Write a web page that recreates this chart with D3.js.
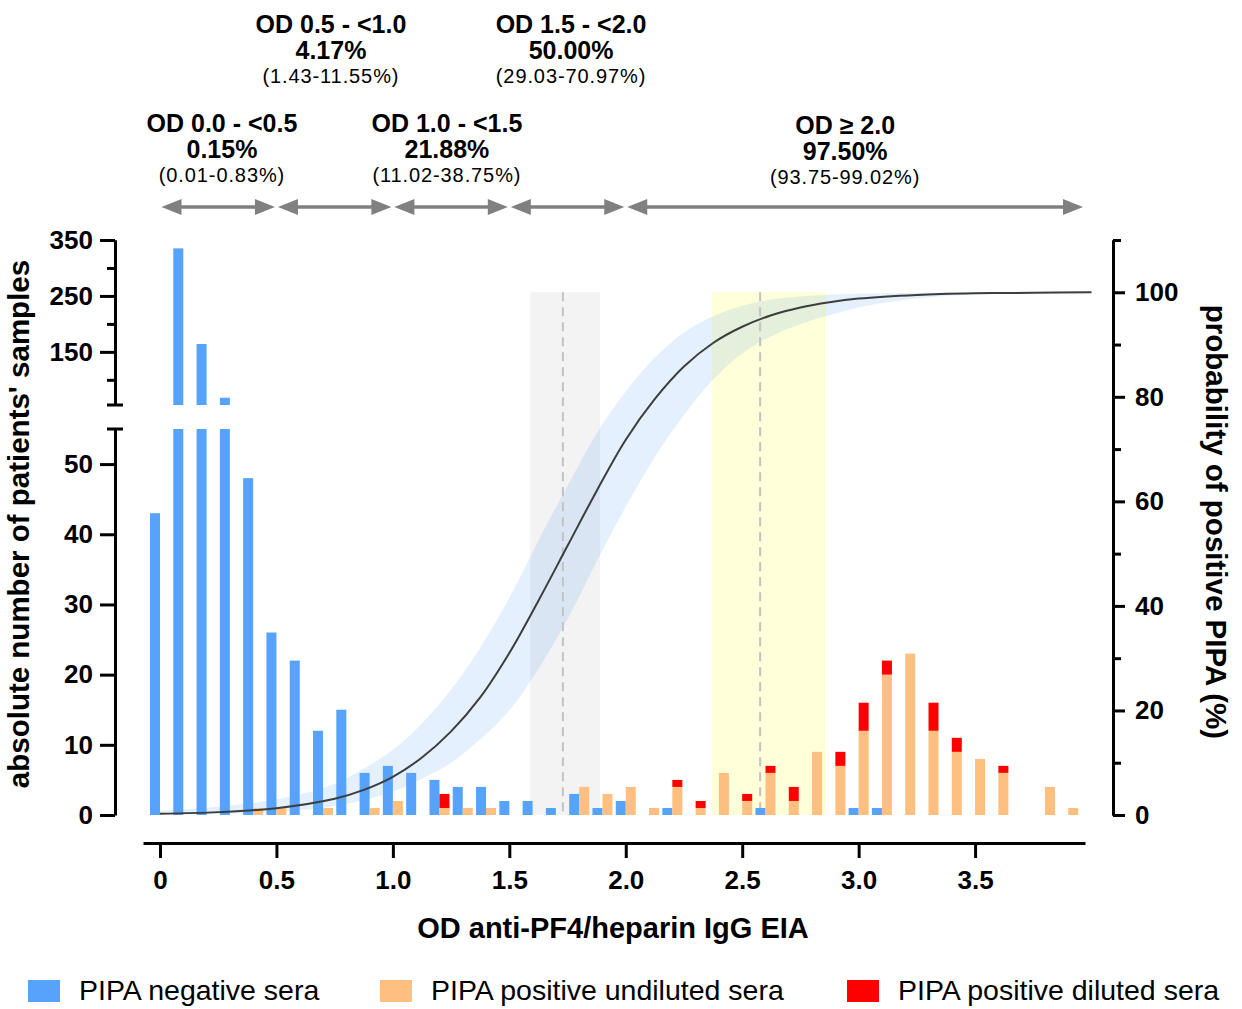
<!DOCTYPE html>
<html>
<head>
<meta charset="utf-8">
<script src="https://cdn.jsdelivr.net/npm/d3@7"></script>
<style>
	body { margin: 0; background: #fff; }
	svg text { font-family: "Liberation Sans", Arial, sans-serif; }
</style>
</head>
<body>
<div id="chart"></div>
<script>
// OD bins (bar centres) and counts per bin
const odBins = [0.0, 0.1, 0.2, 0.3, 0.4, 0.5, 0.6, 0.7, 0.8, 0.9,
	1.0, 1.1, 1.2, 1.3, 1.4, 1.5, 1.6, 1.7, 1.8, 1.9,
	2.0, 2.1, 2.2, 2.3, 2.4, 2.5, 2.6, 2.7, 2.8, 2.9,
	3.0, 3.1, 3.2, 3.3, 3.4, 3.5, 3.6, 3.7, 3.8, 3.9]
const negative = [43, 335, 164, 68, 48, 26, 22, 12, 15, 6,
	7, 6, 5, 4, 4, 2, 2, 1, 3, 1,
	2, 0, 1, 0, 0, 0, 1, 0, 0, 0,
	1, 1, 0, 0, 0, 0, 0, 0, 0, 0]
const posUndiluted = [0, 0, 0, 0, 1, 1, 0, 1, 0, 1,
	2, 0, 1, 1, 1, 0, 0, 0, 4, 3,
	4, 1, 4, 1, 6, 2, 6, 2, 9, 7,
	12, 20, 23, 12, 9, 8, 6, 0, 4, 1]
const posDiluted = [0, 0, 0, 0, 0, 0, 0, 0, 0, 0,
	0, 0, 2, 0, 0, 0, 0, 0, 0, 0,
	0, 0, 1, 1, 0, 1, 1, 2, 0, 2,
	4, 2, 0, 4, 2, 0, 1, 0, 0, 0]

// fitted probability curve and its 95% band (%)
const curveOD = [0, 0.25, 0.5, 0.75, 0.875, 1.0, 1.125, 1.25, 1.375, 1.5, 1.625, 1.75, 1.875, 2.0, 2.125, 2.25, 2.375, 2.5, 2.625, 2.75, 2.875, 3.0, 3.25, 3.5, 3.75, 4.0]
const curvePct = [0.25, 0.55, 1.3, 3.1, 4.8, 7.3, 11, 16, 22.5, 31, 41, 51.5, 62, 71.8, 79.6, 85.8, 90.3, 93.4, 95.6, 97.1, 98.1, 98.8, 99.5, 99.8, 99.9, 100]
const bandOD = [0, 0.25, 0.5, 0.75, 1.0, 1.125, 1.25, 1.375, 1.5, 1.625, 1.75, 1.875, 2.0, 2.125, 2.25, 2.375, 2.5, 2.625, 2.75, 3.0, 3.25, 3.5, 3.75, 4.0]
const bandUpper = [0.8, 1.6, 3.0, 6.0, 12.5, 17.5, 24, 32, 41.5, 52.5, 63, 73, 81, 87.5, 92.3, 95.4, 97.4, 98.6, 99.2, 99.7, 99.9, 100, 100, 100]
const bandLower = [0.05, 0.2, 0.6, 1.7, 4.5, 7, 10, 14.5, 20, 28, 37.5, 48.5, 59, 68.5, 76.5, 83.3, 88.3, 91.6, 93.9, 97.1, 98.8, 99.6, 99.9, 100]

// OD at 50% / 95% probability with confidence intervals
const od50 = 1.73, od50CI = [1.59, 1.89]
const od95 = 2.577, od95CI = [2.37, 2.86]

// annotation ranges on top
const annotLabels = ["OD 0.0 - <0.5", "OD 0.5 - <1.0", "OD 1.0 - <1.5", "OD 1.5 - <2.0", "OD \u2265 2.0"]
const annotPct = ["0.15%", "4.17%", "21.88%", "50.00%", "97.50%"]
const annotCI = ["(0.01-0.83%)", "(1.43-11.55%)", "(11.02-38.75%)", "(29.03-70.97%)", "(93.75-99.02%)"]
const annotFrom = [0, 0.5, 1.0, 1.5, 2.0]
const annotTo = [0.5, 1.0, 1.5, 2.0, 3.97]
const annotTextOD = [0.266, 0.734, 1.232, 1.765, 2.942]
const annotBaseline = [132, 33, 132, 33, 134]

const xTicks = [0, 0.5, 1.0, 1.5, 2.0, 2.5, 3.0, 3.5]
const legendLabels = ["PIPA negative sera", "PIPA positive undiluted sera", "PIPA positive diluted sera"]

const blue = "#57a2fb", orange = "#ffbf80", red = "#ff0000"

const svg = d3.select("#chart").append("svg").attr("width", 1242).attr("height", 1009)

const x = d3.scaleLinear().domain([-0.073, 3.972]).range([143, 1085])
const yLow = d3.scaleLinear().domain([0, 55]).range([815, 429])
const yHigh = d3.scaleLinear().domain([55, 350]).range([405, 240])
const yR = d3.scaleLinear().domain([0, 110]).range([815, 240])
const barW = 10

// shaded intervals
svg
	.selectAll(".shade")
	.data([{ ci: od50CI, fill: "#f3f3f3" }, { ci: od95CI, fill: "#ffffd9" }])
	.enter()
	.append("rect")
	.attr("x", d => x(d.ci[0]))
	.attr("width", d => x(d.ci[1]) - x(d.ci[0]))
	.attr("y", yR(100))
	.attr("height", yR(0) - yR(100))
	.attr("fill", d => d.fill)

// confidence band
const band = d3.area()
	.x(d => x(d))
	.y0((d, i) => yR(bandLower[i]))
	.y1((d, i) => yR(bandUpper[i]))
	.curve(d3.curveCatmullRom.alpha(0.5))

svg.append("path").datum(bandOD).attr("d", band).attr("fill", "rgb(66,150,240)").attr("fill-opacity", 0.14)

svg
	.selectAll(".ref")
	.data([od50, od95])
	.enter()
	.append("line")
	.attr("x1", d => x(d))
	.attr("x2", d => x(d))
	.attr("y1", yR(100))
	.attr("y2", yR(0))
	.attr("stroke", "#c2c2c2")
	.attr("stroke-width", 2)
	.attr("stroke-dasharray", "9,6")

// bars
const rows = odBins.map((od, i) => ({ od, neg: negative[i], und: posUndiluted[i], dil: posDiluted[i] }))

const negSegs = []
rows.forEach(d => {
	if (d.neg === 0) return
	negSegs.push({ od: d.od, y0: yLow(0), y1: yLow(Math.min(d.neg, 55)) })
	if (d.neg > 55) negSegs.push({ od: d.od, y0: yHigh(55), y1: yHigh(d.neg) })
})

svg
	.selectAll(".neg")
	.data(negSegs)
	.enter()
	.append("rect")
	.attr("x", d => x(d.od) - barW)
	.attr("width", barW)
	.attr("y", d => d.y1)
	.attr("height", d => d.y0 - d.y1)
	.attr("fill", blue)

svg
	.selectAll(".und")
	.data(rows.filter(d => d.und > 0))
	.enter()
	.append("rect")
	.attr("x", d => x(d.od))
	.attr("width", barW)
	.attr("y", d => yLow(d.und))
	.attr("height", d => yLow(0) - yLow(d.und))
	.attr("fill", orange)

svg
	.selectAll(".dil")
	.data(rows.filter(d => d.dil > 0))
	.enter()
	.append("rect")
	.attr("x", d => x(d.od))
	.attr("width", barW)
	.attr("y", d => yLow(d.und + d.dil))
	.attr("height", d => yLow(d.und) - yLow(d.und + d.dil))
	.attr("fill", red)

// fitted curve
const line = d3.line()
	.x(d => x(d))
	.y((d, i) => yR(curvePct[i]))
	.curve(d3.curveCatmullRom.alpha(0.5))

svg.append("path").datum(curveOD).attr("d", line).attr("fill", "none").attr("stroke", "#3d3d3d").attr("stroke-width", 2)

// axes
const axisStyle = g => {
	g.select(".domain").attr("stroke-width", 3).attr("stroke", "#000")
	g.selectAll(".tick line").attr("stroke-width", 3).attr("stroke", "#000")
	g.selectAll(".tick text").attr("font-size", 26).attr("font-weight", "bold").attr("fill", "#000")
}

svg
	.append("g")
	.attr("transform", "translate(0,843)")
	.call(d3.axisBottom(x).tickValues(xTicks).tickFormat(d => (d === 0 ? "0" : d3.format(".1f")(d))).tickSize(15).tickSizeOuter(0).tickPadding(13))
	.call(axisStyle)

svg
	.append("g")
	.attr("transform", "translate(115,0)")
	.call(d3.axisLeft(yLow).tickValues([0, 10, 20, 30, 40, 50]).tickSize(15).tickSizeOuter(0).tickPadding(7))
	.call(axisStyle)

svg
	.append("g")
	.attr("transform", "translate(115,0)")
	.call(d3.axisLeft(yHigh).tickValues([150, 250, 350]).tickSize(15).tickSizeOuter(0).tickPadding(7))
	.call(axisStyle)

svg
	.append("g")
	.attr("transform", "translate(115,0)")
	.call(d3.axisLeft(yHigh).tickValues([100, 200, 300]).tickSize(8).tickSizeOuter(0).tickFormat(""))
	.call(axisStyle)

// caps at the axis break
svg
	.selectAll(".cap")
	.data([yHigh(55), yLow(55)])
	.enter()
	.append("line")
	.attr("x1", 107)
	.attr("x2", 123)
	.attr("y1", d => d)
	.attr("y2", d => d)
	.attr("stroke", "#000")
	.attr("stroke-width", 3)

svg
	.append("g")
	.attr("transform", "translate(1113,0)")
	.call(d3.axisRight(yR).tickValues([0, 20, 40, 60, 80, 100]).tickSize(12).tickSizeOuter(0).tickPadding(10))
	.call(axisStyle)

svg
	.append("g")
	.attr("transform", "translate(1113,0)")
	.call(d3.axisRight(yR).tickValues([10, 30, 50, 70, 90, 110]).tickSize(8).tickSizeOuter(0).tickFormat(""))
	.call(axisStyle)

// axis titles
svg
	.append("text")
	.attr("transform", "translate(29,524) rotate(-90)")
	.attr("text-anchor", "middle")
	.attr("font-size", 29.5)
	.attr("font-weight", "bold")
	.text("absolute number of patients' samples")

svg
	.append("text")
	.attr("transform", "translate(1206,522) rotate(90)")
	.attr("text-anchor", "middle")
	.attr("font-size", 29.5)
	.attr("font-weight", "bold")
	.text("probability of positive PIPA (%)")

svg
	.append("text")
	.attr("x", 613)
	.attr("y", 938)
	.attr("text-anchor", "middle")
	.attr("font-size", 29)
	.attr("font-weight", "bold")
	.text("OD anti-PF4/heparin IgG EIA")

// range annotations with arrows
const annots = annotLabels.map((label, i) => ({
	label,
	pct: annotPct[i],
	ci: annotCI[i],
	from: annotFrom[i],
	to: annotTo[i],
	tx: annotTextOD[i],
	ty: annotBaseline[i],
}))

const ay = 207, head = 20, hw = 8
const arrowGray = "#808080"

const arrows = svg.selectAll(".arrow").data(annots).enter().append("g")

arrows
	.append("line")
	.attr("x1", d => x(d.from) + head)
	.attr("x2", d => x(d.to) - head)
	.attr("y1", ay)
	.attr("y2", ay)
	.attr("stroke", arrowGray)
	.attr("stroke-width", 3.5)

arrows
	.append("path")
	.attr("d", d => {
		const a = x(d.from) + 1.5, b = x(d.to) - 1.5
		return `M${a},${ay}L${a + head},${ay - hw}L${a + head},${ay + hw}Z` +
			`M${b},${ay}L${b - head},${ay - hw}L${b - head},${ay + hw}Z`
	})
	.attr("fill", arrowGray)

const labels = svg.selectAll(".annot").data(annots).enter().append("g").attr("text-anchor", "middle")

labels
	.append("text")
	.attr("x", d => x(d.tx))
	.attr("y", d => d.ty)
	.attr("font-size", 25)
	.attr("font-weight", "bold")
	.text(d => d.label)

labels
	.append("text")
	.attr("x", d => x(d.tx))
	.attr("y", d => d.ty + 26)
	.attr("font-size", 25)
	.attr("font-weight", "bold")
	.text(d => d.pct)

labels
	.append("text")
	.attr("x", d => x(d.tx))
	.attr("y", d => d.ty + 50)
	.attr("font-size", 20)
	.attr("letter-spacing", 0.9)
	.text(d => d.ci)

// legend
const legend = svg
	.selectAll(".legend")
	.data(legendLabels)
	.enter()
	.append("g")
	.attr("transform", (d, i) => `translate(${[28, 380, 847][i]}, 980)`)

legend
	.append("rect")
	.attr("width", 32)
	.attr("height", 22)
	.attr("fill", (d, i) => [blue, orange, red][i])

legend
	.append("text")
	.attr("x", 51)
	.attr("y", 20)
	.attr("font-size", 28.5)
	.text(d => d)
</script>
</body>
</html>
